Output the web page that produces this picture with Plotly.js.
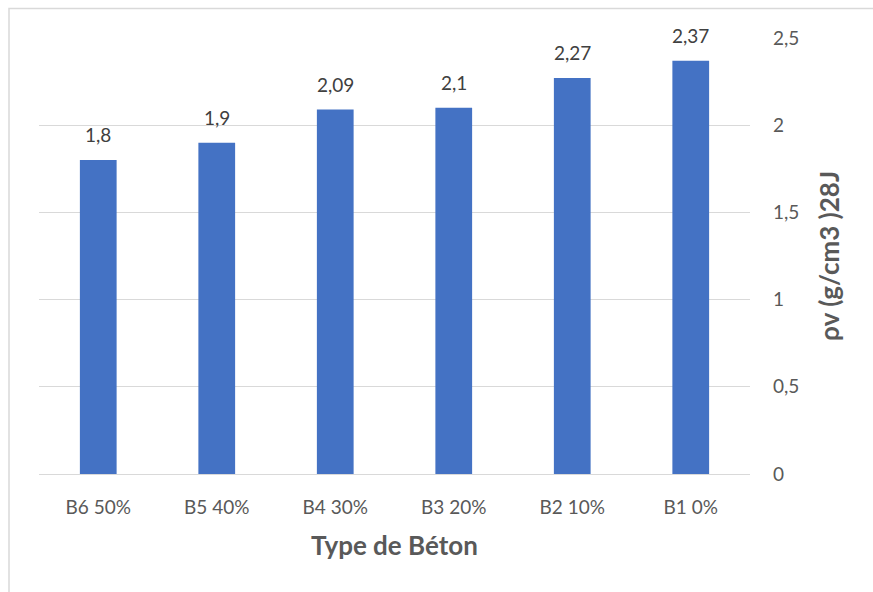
<!DOCTYPE html>
<html>
<head>
<meta charset="utf-8">
<script src="https://cdn.plot.ly/plotly-3.0.1.min.js"></script>
<style>
  html, body { margin: 0; padding: 0; background: #ffffff; }
  #chart { width: 873px; height: 592px; }
</style>
</head>
<body>
<div id="chart"></div>
<script>
// Concrete types (cement replacement rate) and density at 28 days
const categories = ['B6 50%', 'B5 40%', 'B4 30%', 'B3 20%', 'B2 10%', 'B1 0%'];
const density28 = [1.8, 1.9, 2.09, 2.1, 2.27, 2.37];
const yTicks = [0, 0.5, 1, 1.5, 2, 2.5];

const fontFamily = 'Lato, "Open Sans", sans-serif';
const fmt = v => String(v).replace('.', ',');

const trace = {
  type: 'bar',
  x: categories,
  y: density28,
  marker: { color: '#4472c4' },
  hoverinfo: 'x+y'
};

// value labels placed a little above each bar
const labels = categories.map((c, i) => ({
  x: c,
  y: density28[i],
  xref: 'x',
  yref: 'y',
  text: fmt(density28[i]),
  showarrow: false,
  yanchor: 'bottom',
  yshift: 12,
  font: { family: fontFamily, size: 19, color: '#404040' }
}));

const layout = {
  width: 873,
  height: 592,
  margin: { l: 39, r: 123, t: 38, b: 118 },
  paper_bgcolor: '#ffffff',
  plot_bgcolor: '#ffffff',
  separators: ', ',
  bargap: 0.69,
  showlegend: false,
  font: { family: fontFamily, color: '#595959' },
  xaxis: {
    type: 'category',
    showgrid: false,
    showline: false,
    ticks: '',
    tickfont: { family: fontFamily, size: 19, color: '#595959' },
    ticklabelstandoff: 20,
    title: {
      text: '<b>Type de Béton</b>',
      font: { family: fontFamily, size: 26, color: '#595959' },
      standoff: 19
    }
  },
  yaxis: {
    side: 'right',
    range: [0, 2.5],
    tickvals: yTicks,
    showgrid: true,
    gridcolor: '#d9d9d9',
    gridwidth: 1,
    zeroline: true,
    zerolinecolor: '#d9d9d9',
    zerolinewidth: 1,
    showline: false,
    ticks: '',
    ticklabelstandoff: 22,
    tickfont: { family: fontFamily, size: 19, color: '#595959' },
    title: {
      text: '<b>ρv (g/cm3 )28J</b>',
      font: { family: fontFamily, size: 26, color: '#595959' },
      standoff: 22
    }
  },
  annotations: labels,
  shapes: [
    {
      // light frame around the chart area
      type: 'rect', xref: 'paper', yref: 'paper',
      x0: -30 / 711, x1: 1.5, y0: -1, y1: 1 + 29.5 / 436,
      line: { color: '#d9d9d9', width: 1.5 },
      fillcolor: 'rgba(0,0,0,0)', layer: 'below'
    }
  ]
};

Plotly.newPlot('chart', [trace], layout, { displayModeBar: false, staticPlot: true });
</script>
</body>
</html>
